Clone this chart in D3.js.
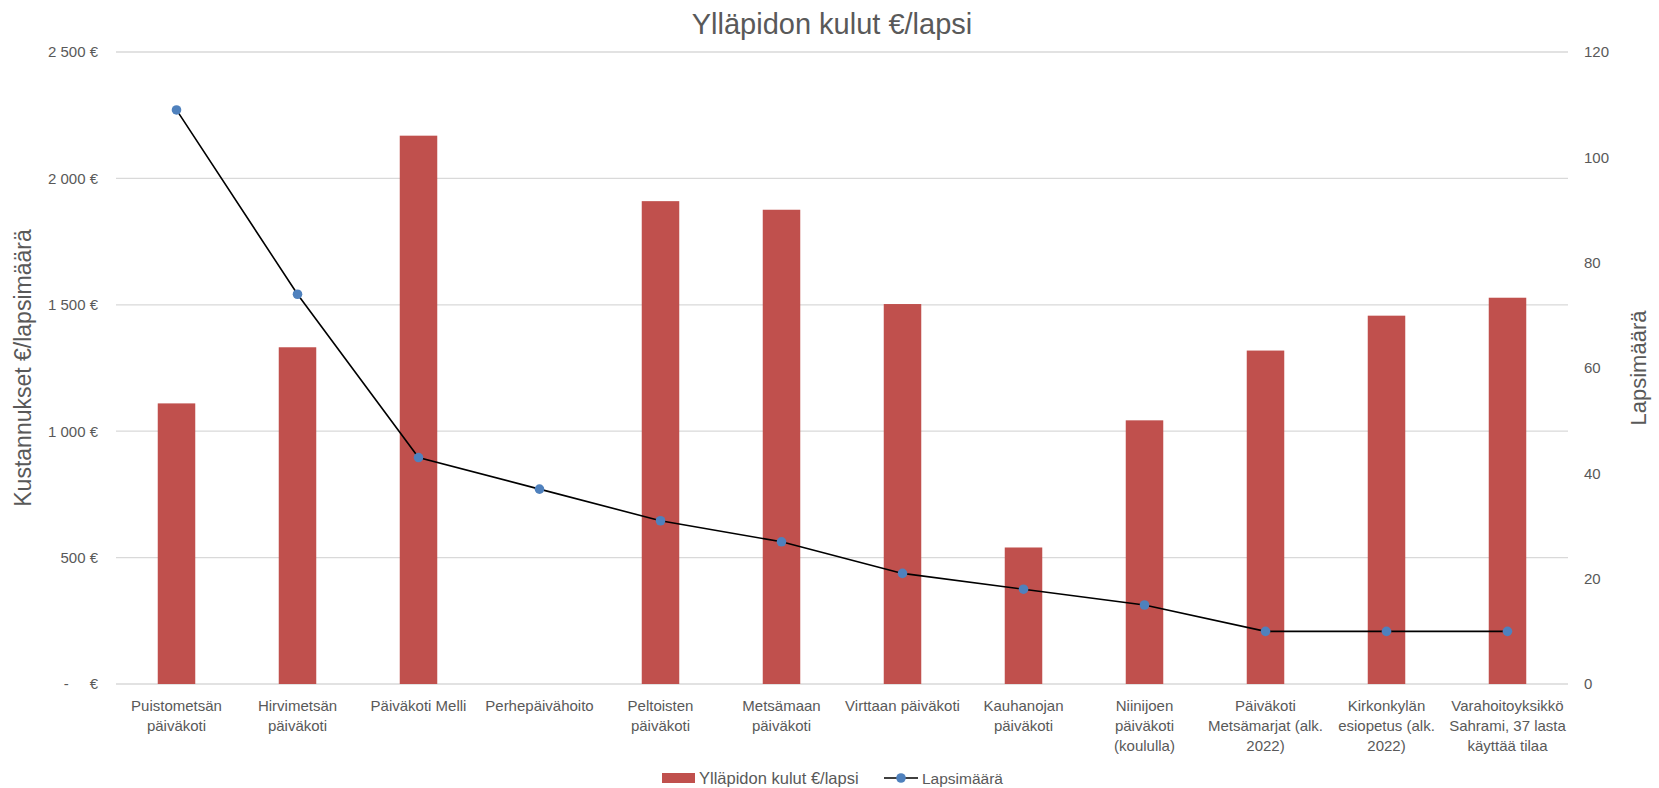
<!DOCTYPE html>
<html>
<head>
<meta charset="utf-8">
<script src="https://cdn.jsdelivr.net/npm/d3@7/dist/d3.min.js"></script>
<style>
  body { margin: 0; background: #fff; }
  svg { display: block; font-family: "Liberation Sans Narrow", "Liberation Sans", sans-serif; }
  .grid line { stroke: #d9d9d9; stroke-width: 1.3; }
  .tick-label { fill: #595959; font-size: 15px; white-space: pre; }
  .cat-label { fill: #595959; font-size: 15px; }
</style>
</head>
<body>
<svg id="chart"></svg>
<script>
// categories (wrapped as in the original)
const categories = [
    ['Puistometsän', 'päiväkoti'],
    ['Hirvimetsän', 'päiväkoti'],
    ['Päiväkoti Melli'],
    ['Perhepäivähoito'],
    ['Peltoisten', 'päiväkoti'],
    ['Metsämaan', 'päiväkoti'],
    ['Virttaan päiväkoti'],
    ['Kauhanojan', 'päiväkoti'],
    ['Niinijoen', 'päiväkoti', '(koululla)'],
    ['Päiväkoti', 'Metsämarjat (alk.', '2022)'],
    ['Kirkonkylän', 'esiopetus (alk.', '2022)'],
    ['Varahoitoyksikkö', 'Sahrami, 37 lasta', 'käyttää tilaa']
];
const costs = [1110, 1332, 2169, 0, 1910, 1876, 1503, 540, 1043, 1319, 1457, 1528];
const children = [109, 74, 43, 37, 31, 27, 21, 18, 15, 10, 10, 10];
const costTicks = [0, 500, 1000, 1500, 2000, 2500];
const childTicks = [0, 20, 40, 60, 80, 100, 120];

const width = 1659, height = 788;
const margin = { top: 52, right: 91, bottom: 104, left: 116 };
const innerW = width - margin.left - margin.right;
const innerH = height - margin.top - margin.bottom;

const svg = d3.select('#chart').attr('width', width).attr('height', height);
const g = svg.append('g').attr('transform', `translate(${margin.left},${margin.top})`);

const x = d3.scaleBand().domain(d3.range(categories.length)).range([0, innerW]).paddingInner(0.69).paddingOuter(0.345);
const yCost = d3.scaleLinear().domain([0, 2500]).range([innerH, 0]);
const yKids = d3.scaleLinear().domain([0, 120]).range([innerH, 0]);

const fmtEuro = v => v === 0 ? '-     €' : d3.format(',')(v).replace(',', ' ') + ' €';

// gridlines
g.append('g').attr('class', 'grid')
    .selectAll('line').data(costTicks).join('line')
    .attr('x1', 0).attr('x2', innerW)
    .attr('y1', d => yCost(d)).attr('y2', d => yCost(d));

// left axis
const left = g.append('g').call(d3.axisLeft(yCost).tickValues(costTicks).tickSize(0).tickPadding(18).tickFormat(fmtEuro));
left.select('.domain').remove();
left.selectAll('text').attr('class', 'tick-label').attr('font-family', null).attr('font-size', null);

// right axis
const right = g.append('g').attr('transform', `translate(${innerW},0)`)
    .call(d3.axisRight(yKids).tickValues(childTicks).tickSize(0).tickPadding(16));
right.select('.domain').remove();
right.selectAll('text').attr('class', 'tick-label').attr('font-family', null).attr('font-size', null);

// bars
g.append('g').selectAll('rect').data(costs).join('rect')
    .attr('x', (d, i) => x(i))
    .attr('y', d => yCost(d))
    .attr('width', x.bandwidth())
    .attr('height', d => innerH - yCost(d))
    .attr('fill', '#c0504d');

// line + markers
const cx = i => x(i) + x.bandwidth() / 2;
g.append('path').datum(children)
    .attr('fill', 'none').attr('stroke', '#000').attr('stroke-width', 1.6)
    .attr('d', d3.line().x((d, i) => cx(i)).y(d => yKids(d)));
g.append('g').selectAll('circle').data(children).join('circle')
    .attr('cx', (d, i) => cx(i)).attr('cy', d => yKids(d)).attr('r', 4.8)
    .attr('fill', '#4f81bd');

// category labels
const cat = g.append('g').selectAll('text').data(categories).join('text')
    .attr('class', 'cat-label').attr('text-anchor', 'middle')
    .attr('x', (d, i) => cx(i)).attr('y', innerH + 27);
cat.selectAll('tspan').data(d => d).join('tspan')
    .attr('x', function() { return d3.select(this.parentNode).attr('x'); })
    .attr('dy', (d, i) => i === 0 ? 0 : 20)
    .text(d => d);

// title
svg.append('text').attr('x', 832).attr('y', 34).attr('text-anchor', 'middle')
    .attr('fill', '#595959').style('font-family', '"Liberation Sans", sans-serif').attr('font-size', 29)
    .text('Ylläpidon kulut €/lapsi');

// axis titles
svg.append('text').attr('transform', `translate(31,${margin.top + innerH / 2}) rotate(-90)`)
    .attr('text-anchor', 'middle').attr('fill', '#595959')
    .style('font-family', '"Liberation Sans", sans-serif').attr('font-size', 23)
    .text('Kustannukset €/lapsimäärä');
svg.append('text').attr('transform', `translate(1646,${margin.top + innerH / 2}) rotate(-90)`)
    .attr('text-anchor', 'middle').attr('fill', '#595959')
    .style('font-family', '"Liberation Sans", sans-serif').attr('font-size', 22)
    .text('Lapsimäärä');

// legend
const legend = svg.append('g').attr('transform', 'translate(0,778)');
legend.append('rect').attr('x', 662).attr('y', -5).attr('width', 33).attr('height', 10).attr('fill', '#c0504d');
legend.append('text').attr('class', 'cat-label').style('font-size', '16.5px').attr('x', 699).attr('y', 6).text('Ylläpidon kulut €/lapsi');
legend.append('line').attr('x1', 884).attr('x2', 918).attr('y1', 0).attr('y2', 0).attr('stroke', '#000').attr('stroke-width', 1.6);
legend.append('circle').attr('cx', 901).attr('cy', 0).attr('r', 4.8).attr('fill', '#4f81bd');
legend.append('text').attr('class', 'cat-label').style('font-size', '15.5px').attr('x', 922).attr('y', 6).text('Lapsimäärä');
</script>
</body>
</html>
